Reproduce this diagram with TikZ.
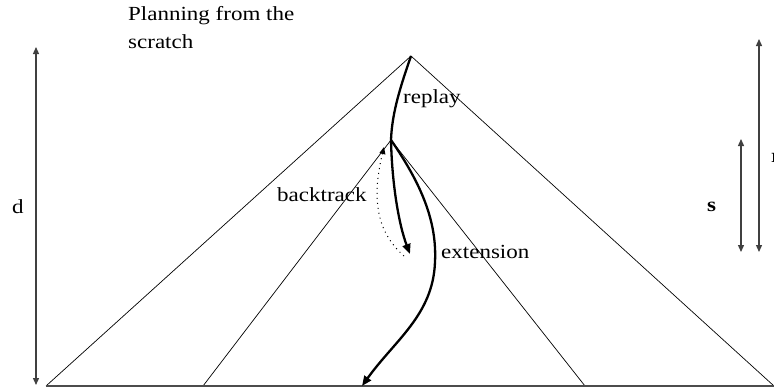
\documentclass[tikz,border=0pt]{standalone}
\usepackage{fontspec}
\setmainfont{Liberation Serif}[FakeStretch=1.15]
\usetikzlibrary{arrows.meta}
\begin{document}
\begin{tikzpicture}[x=1pt,y=-1pt,
  thinline/.style={draw=black,line width=0.7pt},
  dimarrow/.style={draw=black!75,line width=1.3pt,{Triangle[length=7pt,width=6pt]}-{Triangle[length=7pt,width=6pt]}},
  thickpath/.style={draw=black,line width=2.3pt},
  thicktip/.style={-{Triangle[length=10pt,width=8pt]}},
  dotpath/.style={draw=black,line width=1pt,dash pattern=on 1pt off 4pt,-{Triangle[length=7pt,width=6pt]}},
  lbl/.style={inner sep=0pt,anchor=base west,font=\fontsize{20}{28}\selectfont},
  blbl/.style={lbl,font=\fontsize{20}{28}\selectfont\bfseries}]
\useasboundingbox (0,0) rectangle (774,389);
% key points
\coordinate (apex) at (411,56);
\coordinate (bl) at (46,386);
\coordinate (br) at (774,386);
\coordinate (iapex) at (391,140);
\coordinate (ibl) at (203,386);
\coordinate (ibr) at (585,386);
\coordinate (rtip) at (410,254);
\coordinate (etip) at (362,386);
\coordinate (btip) at (384,147);
% triangles
\draw[thinline] (bl) -- (apex) -- (br);
\draw[thinline] (ibl) -- (iapex) -- (ibr);
\draw[draw=black!70,line width=2pt] (bl) -- (br);
% replay
\draw[thickpath] (apex) .. controls (401,85) and (392,112) .. (iapex);
% straight thick arrow
\draw[thickpath,thicktip] (iapex) .. controls (392,185) and (399,225) .. (rtip);
% extension
\draw[thickpath,thicktip] (iapex) .. controls (422,185) and (437,222) .. (435,262)
  .. controls (433,315) and (395,340) .. (etip);
% backtrack
\draw[dotpath] (404,256) .. controls (380,235) and (370,205) .. (btip);
% dimension arrows
\coordinate (dtop) at (36,47);
\coordinate (dbot) at (36,385);
\draw[dimarrow] (dtop) -- (dbot);
\coordinate (rtop) at (759,39);
\coordinate (rbot) at (759,252);
\draw[dimarrow] (rtop) -- (rbot);
\coordinate (stop) at (741,139);
\coordinate (sbot) at (741,252);
\draw[dimarrow] (stop) -- (sbot);
% labels
\node[lbl] (plan1) at (128,20) {Planning from the};
\node[lbl] (plan2) at (128,48) {scratch};
\node[lbl] (replay) at (403,103) {replay};
\node[lbl] (backtrack) at (277,201) {backtrack};
\node[lbl] (extension) at (441,258) {extension};
\node[lbl] (d) at (12,213) {d};
\node[blbl] (s) at (707,211) {s};
\node[blbl] (r) at (771,162) {r};
\end{tikzpicture}
\end{document}
